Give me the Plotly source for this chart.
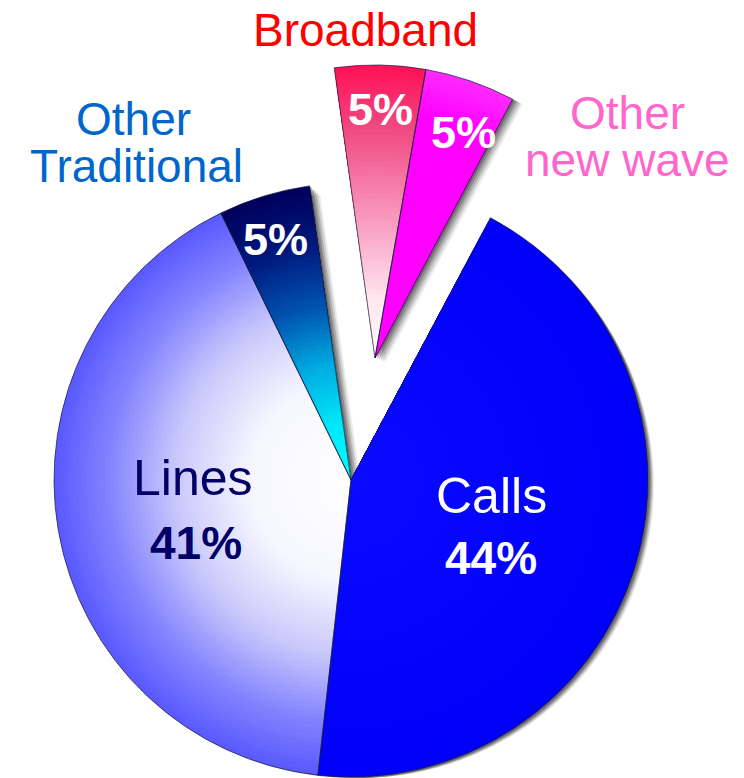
import plotly.graph_objects as go

# Revenue split by source (percent)
labels = ["Calls", "Lines", "Other Traditional", "Broadband", "Other new wave"]
shares = [44, 41, 5, 5, 5]
exploded = [False, False, False, True, True]

W, H = 744, 778
ROTATION = 28          # start angle of the first slice, clockwise from 12 o'clock
MAIN_C, MAIN_R = (351, 480), 297
EXPL_C, EXPL_R = (375, 358), 293
RINGS = 64

# radial colour stops for each slice: (fraction of radius, rgb)
gradients = {
    "Calls": [(0.0, (10, 10, 255)), (1.0, (0, 0, 250))],
    "Lines": [(0.0, (255, 255, 255)), (0.35, (246, 246, 255)), (0.6, (200, 200, 252)),
              (0.82, (132, 132, 255)), (1.0, (90, 90, 255))],
    "Other Traditional": [(0.0, (0, 255, 255)), (0.2, (0, 232, 248)), (0.4, (0, 172, 226)),
                          (0.6, (0, 84, 176)), (0.8, (0, 26, 128)), (1.0, (0, 0, 92))],
    "Broadband": [(0.0, (255, 255, 255)), (0.2, (255, 232, 240)), (0.5, (248, 150, 188)),
                  (0.8, (240, 72, 128)), (1.0, (255, 18, 88))],
    "Other new wave": [(0.0, (255, 0, 255)), (0.85, (255, 0, 255)), (1.0, (255, 40, 255))],
}

CLEAR = "rgba(0,0,0,0)"


def color_at(stops, f):
    for (f0, c0), (f1, c1) in zip(stops, stops[1:]):
        if f <= f1:
            t = 0 if f1 == f0 else (f - f0) / (f1 - f0)
            rgb = [round(a + (b - a) * t) for a, b in zip(c0, c1)]
            return "rgb({},{},{})".format(*rgb)
    return "rgb({},{},{})".format(*stops[-1][1])


def domain(cx, cy, r):
    return dict(x=[(cx - r) / W, (cx + r) / W],
                y=[max(0, 1 - (cy + r) / H), min(1, 1 - (cy - r) / H)])


def pie(dom, colors, line_colors=None, line_width=0, hover=False):
    return go.Pie(
        labels=labels, values=shares, sort=False, direction="clockwise",
        rotation=ROTATION, domain=dom, textinfo="none", showlegend=False,
        hoverinfo="label+percent" if hover else "skip",
        marker=dict(colors=colors,
                    line=dict(color=line_colors or CLEAR, width=line_width)),
    )


fig = go.Figure()

# soft drop shadow behind both parts of the pie
for dx, dy, a in [(2, 1, 0.22), (4, 2, 0.2), (6, 3, 0.16), (8, 4, 0.12), (10, 5, 0.08)]:
    for centre, rad, part in [(MAIN_C, MAIN_R, False), (EXPL_C, EXPL_R, True)]:
        cx, cy = centre[0] + dx, centre[1] + dy
        r = min(rad, H - cy)
        cols = [f"rgba(0,0,0,{a})" if e == part else CLEAR for e in exploded]
        fig.add_trace(pie(domain(cx, cy, r), cols))

# concentric layers give each slice a radial shading
for centre, rad, part in [(MAIN_C, MAIN_R, False), (EXPL_C, EXPL_R, True)]:
    for i in range(RINGS):
        f = 1 - i / RINGS
        cols = [color_at(gradients[lab], f) if e == part else CLEAR
                for lab, e in zip(labels, exploded)]
        fig.add_trace(pie(domain(centre[0], centre[1], rad * f), cols))

# slice outlines on top
edge = "rgba(25,25,60,0.7)"
for centre, rad, part in [(MAIN_C, MAIN_R, False), (EXPL_C, EXPL_R, True)]:
    lc = [edge if e == part else CLEAR for e in exploded]
    fig.add_trace(pie(domain(centre[0], centre[1], rad), [CLEAR] * len(labels),
                      line_colors=lc, line_width=1, hover=True))

FONT = "Liberation Sans, Arial, sans-serif"


def text(s, px, py, size, color, bold=False):
    fig.add_annotation(
        x=px / W, y=1 - py / H, xref="paper", yref="paper",
        text=f"<b>{s}</b>" if bold else s, showarrow=False,
        xanchor="center", yanchor="middle",
        font=dict(family=FONT, size=size, color=color),
    )


pct = {lab: f"{v}%" for lab, v in zip(labels, shares)}

# labels inside the slices
text(labels[0], 491, 496, 50, "white")
text(pct["Calls"], 491, 558, 46, "white", bold=True)
text(labels[1], 193, 478, 50, "#000066")
text(pct["Lines"], 196, 543, 46, "#000066", bold=True)
text(pct["Other Traditional"], 275, 239, 45, "white", bold=True)
text(pct["Broadband"], 380, 110, 45, "white", bold=True)
text(pct["Other new wave"], 463, 133, 45, "white", bold=True)

# labels outside the pie
text("Broadband", 365, 30, 46, "#ff0000")
text("Other", 133, 119, 46, "#0066cc")
text("Traditional", 136, 166, 46, "#0066cc")
text("Other", 627, 113, 46, "#ff66cc")
text("new wave", 627, 160, 46, "#ff66cc")

fig.update_layout(
    width=W, height=H, margin=dict(l=0, r=0, t=0, b=0),
    paper_bgcolor="white", plot_bgcolor="white", showlegend=False,
)

fig.write_html("out.html")
